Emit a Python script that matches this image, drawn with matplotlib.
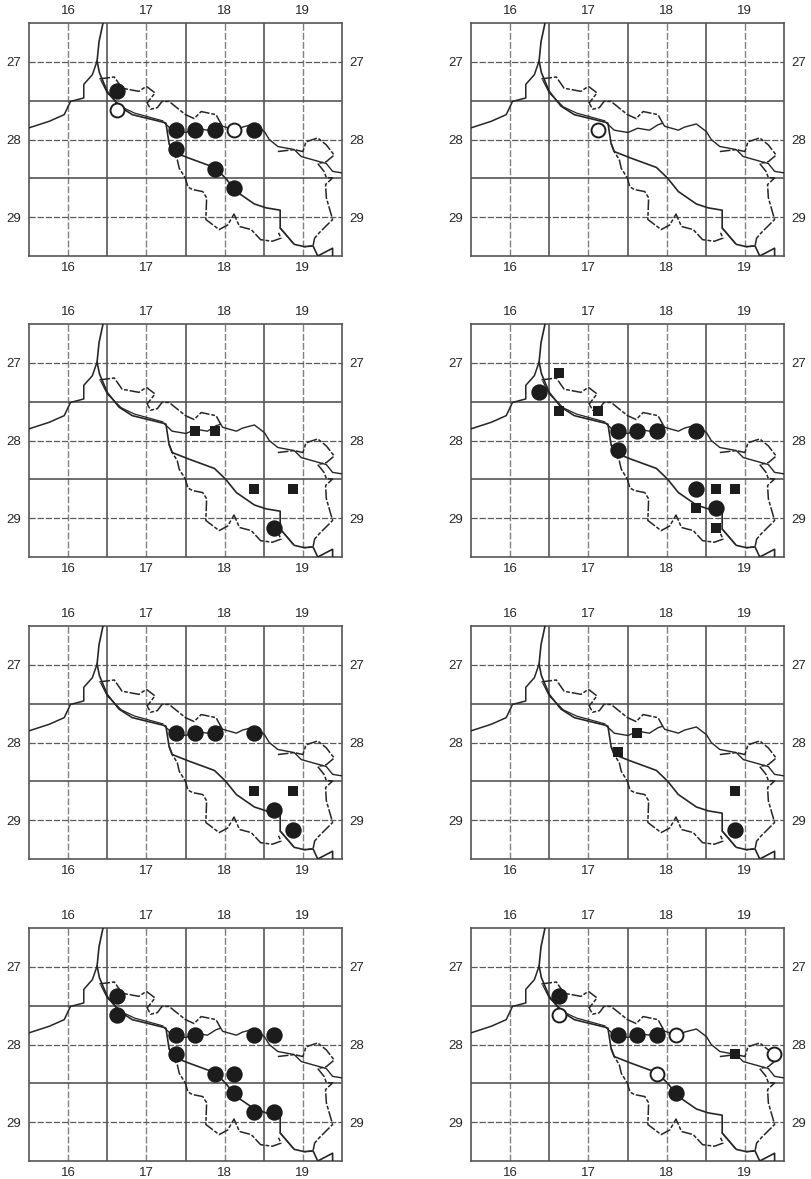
import matplotlib
matplotlib.use("Agg")
import matplotlib.pyplot as plt

plt.rcParams['font.family'] = ['Liberation Sans', 'DejaVu Sans']

# map outline
main_x = [16.446, 16.395, 16.37, 16.40, 16.50, 16.65, 16.82, 17.225, 17.25, 17.29, 17.33, 17.545, 17.87, 18.01, 18.15, 18.38, 18.53, 18.71, 18.71, 18.89, 19.02, 19.13, 19.19, 19.38, 19.38]
main_y = [26.5, 26.74, 26.99, 27.14, 27.38, 27.57, 27.68, 27.78, 27.79, 28.05, 28.155, 28.24, 28.36, 28.495, 28.67, 28.83, 28.88, 28.91, 29.14, 29.35, 29.38, 29.37, 29.5, 29.40, 29.5]
west_x = [16.37, 16.31, 16.20, 16.20, 16.03, 15.95, 15.76, 15.5]
west_y = [26.99, 27.165, 27.29, 27.465, 27.51, 27.68, 27.765, 27.85]
bank_x = [16.42, 16.50, 16.68, 16.85, 17.21]
bank_y = [27.24, 27.40, 27.58, 27.66, 27.76]
delta_x = [18.71, 18.78, 18.87]
delta_y = [29.14, 29.22, 29.33]
river_x = [17.225, 17.33, 17.506, 17.63, 17.78, 17.89, 17.95, 17.975, 18.15, 18.23, 18.38, 18.51, 18.57, 18.68, 18.89, 18.98, 19.30, 19.38, 19.5]
river_y = [27.78, 27.88, 27.91, 27.855, 27.88, 27.81, 27.79, 27.83, 27.88, 27.84, 27.80, 27.90, 28.0, 28.09, 28.13, 28.22, 28.31, 28.41, 28.43]
border_n_x = [16.40, 16.59, 16.69, 16.905, 17.0, 17.11, 17.01, 17.055, 17.14, 17.20, 17.29, 17.50, 17.61, 17.70, 17.89, 17.95]
border_n_y = [27.22, 27.195, 27.34, 27.38, 27.315, 27.40, 27.53, 27.61, 27.59, 27.51, 27.51, 27.68, 27.73, 27.64, 27.68, 27.79]
border_e_x = [18.68, 18.89, 19.0, 19.04, 19.19, 19.30, 19.40, 19.30, 19.19, 19.27, 19.30, 19.38, 19.29, 19.30, 19.38, 19.21, 19.15, 19.13, 19.02]
border_e_y = [28.155, 28.13, 28.155, 28.03, 27.98, 28.07, 28.20, 28.285, 28.31, 28.41, 28.49, 28.495, 28.58, 28.75, 29.03, 29.20, 29.27, 29.37, 29.38]
border_s_x = [17.29, 17.33, 17.395, 17.42, 17.50, 17.53, 17.59, 17.72, 17.77, 17.76, 17.93, 18.04, 18.12, 18.19, 18.34, 18.46, 18.61, 18.72, 18.68]
border_s_y = [28.05, 28.155, 28.26, 28.37, 28.50, 28.61, 28.645, 28.67, 28.75, 29.03, 29.16, 29.10, 28.96, 29.12, 29.16, 29.29, 29.31, 29.27, 29.18]

# panels, left to right, top to bottom
filled = [
    [(16.625, 27.375), (17.375, 27.875), (17.625, 27.875), (17.875, 27.875), (18.375, 27.875), (17.375, 28.125), (17.875, 28.375), (18.125, 28.625)],
    [],
    [(18.625, 29.125)],
    [(16.375, 27.375), (17.375, 27.875), (17.625, 27.875), (17.875, 27.875), (18.375, 27.875), (17.375, 28.125), (18.375, 28.625), (18.625, 28.875)],
    [(17.375, 27.875), (17.625, 27.875), (17.875, 27.875), (18.375, 27.875), (18.625, 28.875), (18.875, 29.125)],
    [(18.875, 29.125)],
    [(16.625, 27.375), (16.625, 27.625), (17.375, 27.875), (17.625, 27.875), (18.375, 27.875), (18.625, 27.875), (17.375, 28.125), (17.875, 28.375), (18.125, 28.375), (18.125, 28.625), (18.375, 28.875), (18.625, 28.875)],
    [(16.625, 27.375), (17.375, 27.875), (17.625, 27.875), (17.875, 27.875), (18.125, 28.625)],
]
opened = [
    [(16.625, 27.625), (18.125, 27.875)],
    [(17.125, 27.875)],
    [],
    [],
    [],
    [],
    [],
    [(16.625, 27.625), (18.125, 27.875), (19.375, 28.125), (17.875, 28.375)],
]
squares = [
    [],
    [],
    [(17.625, 27.875), (17.875, 27.875), (18.375, 28.625), (18.875, 28.625)],
    [(16.625, 27.125), (16.625, 27.625), (17.125, 27.625), (18.625, 28.625), (18.875, 28.625), (18.375, 28.875), (18.625, 29.125)],
    [(18.375, 28.625), (18.875, 28.625)],
    [(17.625, 27.875), (17.375, 28.125), (18.875, 28.625)],
    [],
    [(18.875, 28.125)],
]

x_major = [16, 17, 18, 19]
y_major = [27, 28, 29]
x_minor = [16.5, 17.5, 18.5]
y_minor = [27.5, 28.5]

W, H = 812, 1179
lefts = [29, 471]
tops = [23, 324, 626, 928]
aw, ah = 313, 233

fig = plt.figure(figsize=(W / 100, H / 100), dpi=100)

for i in range(8):
    left = lefts[i % 2]
    top = tops[i // 2]
    ax = fig.add_axes([left / W, 1 - (top + ah) / H, aw / W, ah / H])
    ax.set_xlim(15.5, 19.5)
    ax.set_ylim(29.5, 26.5)
    ax.set_xticks(x_major)
    ax.set_yticks(y_major)
    ax.set_xticks(x_minor, minor=True)
    ax.set_yticks(y_minor, minor=True)
    ax.tick_params(which='both', length=0)
    ax.tick_params(which='major', labelsize=9.5, labelcolor='#262626',
                   labeltop=True, labelright=True)
    ax.tick_params(axis='x', which='major', pad=4.5)
    ax.tick_params(axis='y', which='major', pad=5.5)
    ax.grid(which='major', axis='x', color='#808080', lw=1.0, ls=(0, (5, 1.5)))
    ax.grid(which='major', axis='y', color='#5a5a5a', lw=0.9, ls=(0, (5, 1.5)))
    ax.grid(which='minor', color='#555555', ls='-', lw=1.2)
    ax.set_axisbelow(True)
    for s in ax.spines.values():
        s.set_color('#555555')
        s.set_linewidth(1.2)

    ax.plot(main_x, main_y, color='#262626', lw=1.2, zorder=3)
    ax.plot(west_x, west_y, color='#262626', lw=1.1, zorder=3)
    ax.plot(bank_x, bank_y, color='#262626', lw=0.9, zorder=3)
    ax.plot(delta_x, delta_y, color='#262626', lw=0.9, zorder=3)
    ax.plot(river_x, river_y, color='#262626', lw=1.0, zorder=3)
    for bx, by in [(border_n_x, border_n_y), (border_e_x, border_e_y), (border_s_x, border_s_y)]:
        ax.plot(bx, by, color='#262626', lw=1.1, ls=(0, (7, 1.2, 2.5, 1.2)), zorder=3)

    if filled[i]:
        ax.plot(*zip(*filled[i]), 'o', color='#1c1c1c', ms=11.8, mew=0, zorder=5)
    if opened[i]:
        ax.plot(*zip(*opened[i]), 'o', mfc='white', mec='#1c1c1c', ms=10, mew=1.4, zorder=5)
    if squares[i]:
        ax.plot(*zip(*squares[i]), 's', color='#1c1c1c', ms=7.2, mew=0, zorder=5)

fig.savefig('out.png', dpi=100)
